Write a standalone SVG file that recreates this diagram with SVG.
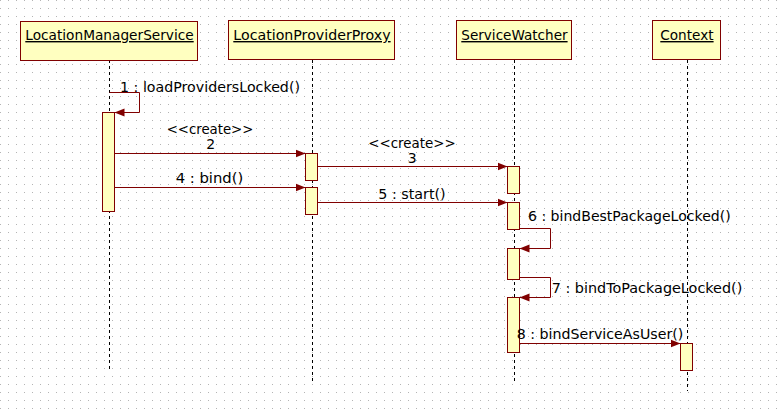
<svg xmlns="http://www.w3.org/2000/svg" width="783" height="410" viewBox="0 0 783 410">
<style>
text{font-family:"DejaVu Sans","Liberation Sans",sans-serif;font-size:14px;fill:#000}
.title{text-decoration:underline}
.box{fill:#FFFFC0;stroke:#800000;stroke-width:1}
.life{stroke:#000;stroke-width:1;stroke-dasharray:3,3;fill:none}
.msg{stroke:#800000;stroke-width:1;fill:none}
</style>
<defs>
<pattern id="grid" width="8" height="8" patternUnits="userSpaceOnUse">
<rect x="0" y="0" width="1" height="1" fill="#b4b4b4"/>
</pattern>
<marker id="arr" markerUnits="userSpaceOnUse" markerWidth="11" markerHeight="9" refX="10" refY="4.5" orient="auto">
<path d="M0,0.5 L10,4.5 L0,8.5 z" fill="#800000"/>
</marker>
</defs>
<rect width="783" height="410" fill="#fff"/>
<rect width="783" height="410" fill="url(#grid)"/>

<g id="lifelines">
<line class="life" x1="109.5" y1="60" x2="109.5" y2="371"/>
<line class="life" x1="312.5" y1="60" x2="312.5" y2="382"/>
<line class="life" x1="514.5" y1="60" x2="514.5" y2="382"/>
<line class="life" x1="687.5" y1="60" x2="687.5" y2="391"/>
</g>

<g id="LocationManagerService">
<rect class="box" x="20.5" y="21.5" width="177" height="39"/>
<text class="title" x="25.3" y="40" textLength="168.4" lengthAdjust="spacingAndGlyphs">LocationManagerService</text>
<rect class="box" x="102.5" y="112.5" width="12" height="99"/>
</g>

<g id="LocationProviderProxy">
<rect class="box" x="228.5" y="20.5" width="166" height="39"/>
<text class="title" x="233.3" y="40" textLength="157.3" lengthAdjust="spacingAndGlyphs">LocationProviderProxy</text>
<rect class="box" x="305.5" y="153.5" width="12" height="27"/>
<rect class="box" x="305.5" y="187.5" width="12" height="27"/>
</g>

<g id="ServiceWatcher">
<rect class="box" x="456.5" y="20.5" width="115" height="39"/>
<text class="title" x="461.3" y="40" textLength="106.3" lengthAdjust="spacingAndGlyphs">ServiceWatcher</text>
<rect class="box" x="507.5" y="166.5" width="12" height="27"/>
<rect class="box" x="507.5" y="202.5" width="12" height="27"/>
<rect class="box" x="507.5" y="248.5" width="12" height="31"/>
<rect class="box" x="507.5" y="297.5" width="12" height="55"/>
</g>

<g id="Context">
<rect class="box" x="652.5" y="20.5" width="68" height="39"/>
<text class="title" x="660.3" y="40" textLength="53.3" lengthAdjust="spacingAndGlyphs">Context</text>
<rect class="box" x="680.5" y="343.5" width="12" height="27"/>
</g>

<g id="connectors">
<path class="msg" d="M109.5,92.5 H139.5 V112.5 H114.5" marker-end="url(#arr)"/>
<line class="msg" x1="114.5" y1="153.5" x2="305.5" y2="153.5" marker-end="url(#arr)"/>
<line class="msg" x1="317.5" y1="166.5" x2="507.5" y2="166.5" marker-end="url(#arr)"/>
<line class="msg" x1="114.5" y1="187.5" x2="305.5" y2="187.5" marker-end="url(#arr)"/>
<line class="msg" x1="317.5" y1="202.5" x2="507.5" y2="202.5" marker-end="url(#arr)"/>
<path class="msg" d="M519.5,228.5 H550.5 V248.5 H519.5" marker-end="url(#arr)"/>
<path class="msg" d="M519.5,277.5 H550.5 V297.5 H519.5" marker-end="url(#arr)"/>
<line class="msg" x1="519.5" y1="343.5" x2="680.5" y2="343.5" marker-end="url(#arr)"/>
</g>

<g id="labels">
<text x="120" y="92" textLength="180" lengthAdjust="spacingAndGlyphs">1 : loadProvidersLocked()</text>
<text x="166.7" y="134" textLength="86.7" lengthAdjust="spacingAndGlyphs">&lt;&lt;create&gt;&gt;</text>
<text x="210.8" y="149.3" text-anchor="middle">2</text>
<text x="368.3" y="147.7" textLength="87.4" lengthAdjust="spacingAndGlyphs">&lt;&lt;create&gt;&gt;</text>
<text x="412.3" y="162.7" text-anchor="middle">3</text>
<text x="175.7" y="183.3" textLength="67.6" lengthAdjust="spacingAndGlyphs">4 : bind()</text>
<text x="378.3" y="199" textLength="67.4" lengthAdjust="spacingAndGlyphs">5 : start()</text>
<text x="528" y="220.7" textLength="202.7" lengthAdjust="spacingAndGlyphs">6 : bindBestPackageLocked()</text>
<text x="551.7" y="292.7" textLength="190.6" lengthAdjust="spacingAndGlyphs">7 : bindToPackageLocked()</text>
<text x="516.7" y="339.3" textLength="166.6" lengthAdjust="spacingAndGlyphs">8 : bindServiceAsUser()</text>
</g>
</svg>
